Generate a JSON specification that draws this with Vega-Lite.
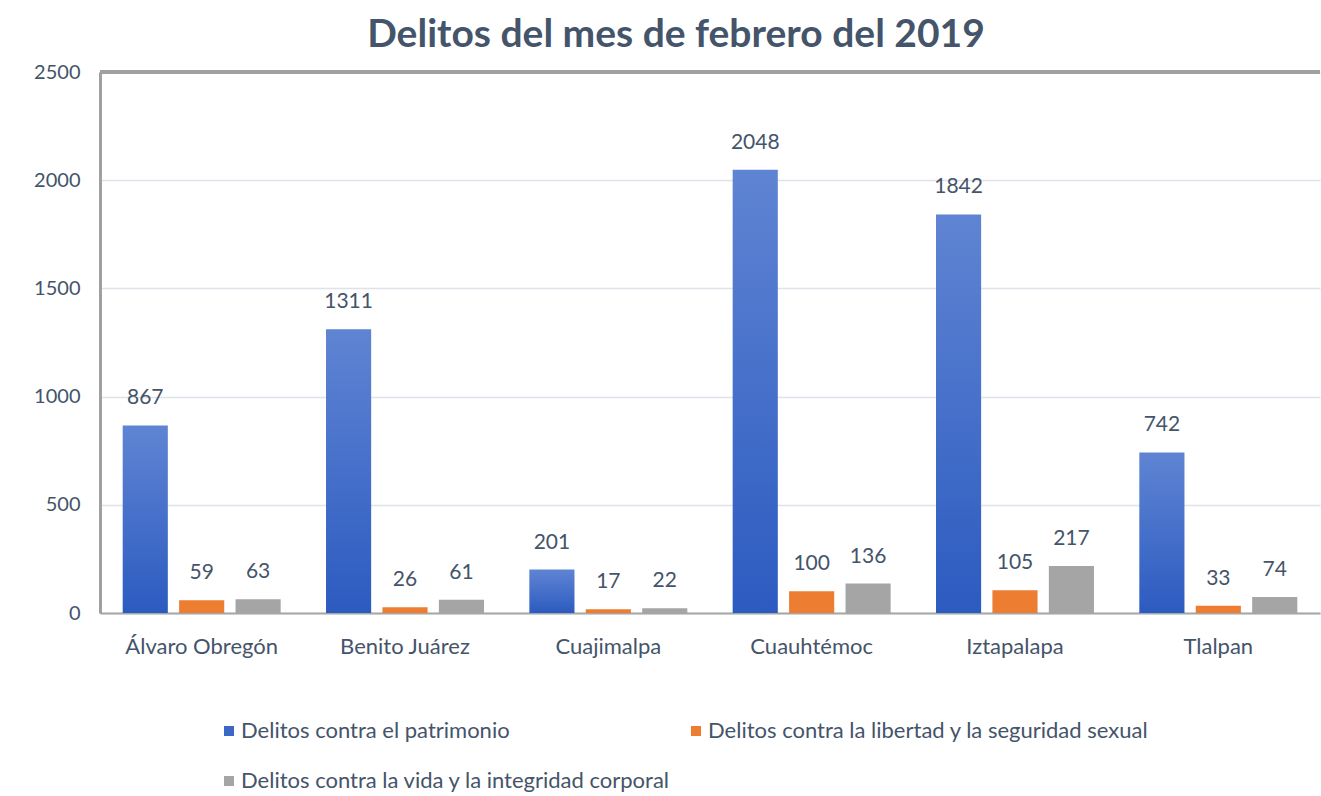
{
  "$schema": "https://vega.github.io/schema/vega-lite/v6.json",
  "width": 1220,
  "height": 541,
  "autosize": {"type": "none"},
  "padding": {"left": 100, "top": 72, "right": 1, "bottom": 183},
  "background": "white",
  "title": {
    "text": "Delitos del mes de febrero del 2019",
    "fontSize": 39,
    "font": "Lato",
    "fontWeight": "bold",
    "color": "#44546A",
    "anchor": "middle",
    "dx": -34,
    "offset": 7
  },
  "config": {"view": {"stroke": null}, "font": "Lato"},
  "data": {
    "values": [
      {"delegacion": "Álvaro Obregón", "tipo": "Delitos contra el patrimonio", "valor": 867},
      {"delegacion": "Álvaro Obregón", "tipo": "Delitos contra la libertad y la seguridad sexual", "valor": 59},
      {"delegacion": "Álvaro Obregón", "tipo": "Delitos contra la vida y la integridad corporal", "valor": 63},
      {"delegacion": "Benito Juárez", "tipo": "Delitos contra el patrimonio", "valor": 1311},
      {"delegacion": "Benito Juárez", "tipo": "Delitos contra la libertad y la seguridad sexual", "valor": 26},
      {"delegacion": "Benito Juárez", "tipo": "Delitos contra la vida y la integridad corporal", "valor": 61},
      {"delegacion": "Cuajimalpa", "tipo": "Delitos contra el patrimonio", "valor": 201},
      {"delegacion": "Cuajimalpa", "tipo": "Delitos contra la libertad y la seguridad sexual", "valor": 17},
      {"delegacion": "Cuajimalpa", "tipo": "Delitos contra la vida y la integridad corporal", "valor": 22},
      {"delegacion": "Cuauhtémoc", "tipo": "Delitos contra el patrimonio", "valor": 2048},
      {"delegacion": "Cuauhtémoc", "tipo": "Delitos contra la libertad y la seguridad sexual", "valor": 100},
      {"delegacion": "Cuauhtémoc", "tipo": "Delitos contra la vida y la integridad corporal", "valor": 136},
      {"delegacion": "Iztapalapa", "tipo": "Delitos contra el patrimonio", "valor": 1842},
      {"delegacion": "Iztapalapa", "tipo": "Delitos contra la libertad y la seguridad sexual", "valor": 105},
      {"delegacion": "Iztapalapa", "tipo": "Delitos contra la vida y la integridad corporal", "valor": 217},
      {"delegacion": "Tlalpan", "tipo": "Delitos contra el patrimonio", "valor": 742},
      {"delegacion": "Tlalpan", "tipo": "Delitos contra la libertad y la seguridad sexual", "valor": 33},
      {"delegacion": "Tlalpan", "tipo": "Delitos contra la vida y la integridad corporal", "valor": 74}
    ]
  },
  "encoding": {
    "y": {
      "field": "valor",
      "type": "quantitative",
      "title": null,
      "scale": {"domain": [0, 2500], "nice": false},
      "axis": {
        "values": [0, 500, 1000, 1500, 2000, 2500],
        "format": "d",
        "labelFontSize": 20,
        "labelColor": "#44546A",
        "labelPadding": 20,
        "ticks": false,
        "domainColor": "#A0A0A0",
        "domainWidth": 3,
        "gridColor": "#DDE3EB",
        "gridWidth": 1.5
      }
    }
  },
  "layer": [
    {
      "mark": {"type": "bar"},
      "encoding": {
        "x": {
          "field": "delegacion",
          "type": "nominal",
          "sort": null,
          "title": null,
          "scale": {"paddingInner": 0.223, "paddingOuter": 0.1116},
          "axis": {
            "labelAngle": 0,
            "labelFontSize": 22,
            "labelColor": "#44546A",
            "labelPadding": 23,
            "ticks": false,
            "domainColor": "#A6A6A6",
            "domainWidth": 2
          }
        },
        "xOffset": {"field": "tipo", "sort": null, "scale": {"paddingInner": 0.2}},
        "color": {
          "condition": {
            "test": "datum.tipo === 'Delitos contra el patrimonio'",
            "value": {
              "gradient": "linear",
              "x1": 0, "y1": 0, "x2": 0, "y2": 1,
              "stops": [
                {"offset": 0, "color": "#5F84D3"},
                {"offset": 1, "color": "#2C5BC0"}
              ]
            }
          },
          "field": "tipo",
          "type": "nominal",
          "sort": null,
          "scale": {
            "domain": [
              "Delitos contra el patrimonio",
              "Delitos contra la libertad y la seguridad sexual",
              "Delitos contra la vida y la integridad corporal"
            ],
            "range": ["#3D67C6", "#ED7D31", "#A5A5A5"]
          },
          "legend": {
            "title": null,
            "orient": "none",
            "direction": "horizontal",
            "legendX": 118,
            "legendY": 648,
            "columns": 2,
            "columnPadding": 14,
            "rowPadding": 28,
            "symbolType": "square",
            "symbolSize": 100,
            "symbolOffset": 0,
            "labelFontSize": 22,
            "labelColor": "#44546A",
            "labelOffset": 1,
            "labelLimit": 700
          }
        }
      }
    },
    {
      "mark": {"type": "text", "baseline": "bottom", "dy": -17, "fontSize": 21, "color": "#44546A"},
      "encoding": {
        "x": {"field": "delegacion", "type": "nominal", "sort": null},
        "xOffset": {"field": "tipo", "sort": null},
        "text": {"field": "valor", "type": "quantitative", "format": "d"}
      }
    },
    {
      "mark": {"type": "rule", "color": "#A0A0A0", "strokeWidth": 3},
      "encoding": {"y": {"datum": 2500}}
    }
  ]
}
